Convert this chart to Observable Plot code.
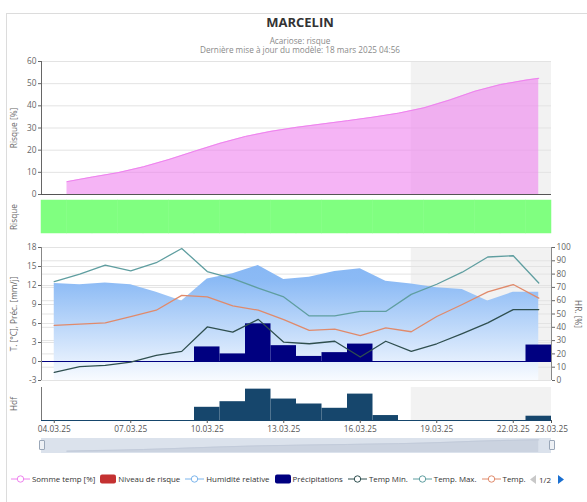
<!DOCTYPE html>
<html><head><meta charset="utf-8">
<script src="https://cdn.jsdelivr.net/npm/d3@7"></script>
<script src="https://cdn.jsdelivr.net/npm/@observablehq/plot@0.6"></script>
<style>
html,body{margin:0;padding:0;background:#fff;}
#root{position:relative;width:587px;height:502px;overflow:hidden;font-family:"Open Sans",sans-serif;color:#666;}
.t{position:absolute;left:0;width:600px;text-align:center;white-space:nowrap;}
.yl{position:absolute;white-space:nowrap;font-size:8.3px;line-height:10px;color:#666;transform:translate(-50%,-50%) rotate(-90deg);}
.yr{position:absolute;white-space:nowrap;font-size:8.3px;line-height:10px;color:#666;transform:translate(-50%,-50%) rotate(90deg);}
#legend{position:absolute;left:11px;top:473px;height:12px;display:flex;align-items:center;font-size:7.9px;color:#333;white-space:nowrap;}
.li{display:flex;align-items:center;margin-right:5px;}
.li svg{margin-right:2px;display:block;}
#nav{position:absolute;left:530px;top:473px;height:12px;display:flex;align-items:center;font-size:8px;color:#333;}
</style></head>
<body><div id="root">
<div style="position:absolute;left:6px;top:13px;width:620px;height:520px;border-left:1px solid #dcdcdc;border-top:1px solid #dcdcdc;"></div>
<div class="t" style="top:13.5px;font-size:13px;line-height:16px;font-weight:bold;color:#333;">MARCELIN</div>
<div class="t" style="top:35.5px;font-size:8.2px;line-height:10px;color:#8a8a8a;">Acariose: risque</div>
<div class="t" style="top:45px;font-size:8.2px;line-height:10px;color:#8a8a8a;">Dernière mise à jour du modèle: 18 mars 2025 04:56</div>
<div class="yl" style="left:14px;top:127.5px;">Risque [%]</div>
<div class="yl" style="left:14px;top:216.5px;">Risque</div>
<div class="yl" style="left:14px;top:313.5px;">T. [°C], Préc. [mm/j]</div>
<div class="yr" style="left:577.5px;top:313.5px;">HR. [%]</div>
<div class="yl" style="left:14px;top:403.5px;">Hdf</div>
</div>
<script>
// ---------- data ----------
const days = ["2025-03-04","2025-03-05","2025-03-06","2025-03-07","2025-03-08","2025-03-09","2025-03-10",
  "2025-03-11","2025-03-12","2025-03-13","2025-03-14","2025-03-15","2025-03-16","2025-03-17","2025-03-18",
  "2025-03-19","2025-03-20","2025-03-21","2025-03-22","2025-03-23"];
const tempMax  = [12.6, 13.8, 15.2, 14.3, 15.6, 17.85, 14.2, 13.1, 11.6, 10.2, 7.2, 7.2, 7.9, 7.9, 10.6, 12.2, 14.1, 16.5, 16.7, 12.4];
const tempMean = [5.7, 5.9, 6.1, 7.1, 8.1, 10.45, 10.2, 8.8, 8.1, 6.6, 4.9, 5.1, 4.1, 5.3, 4.7, 7.1, 9.0, 11.0, 12.15, 10.0];
const tempMin  = [-1.7, -0.8, -0.6, -0.1, 0.95, 1.6, 5.45, 4.65, 6.65, 3.05, 2.8, 3.2, 0.7, 3.2, 1.6, 2.8, 4.4, 6.1, 8.2, 8.2];
const humidity = [72.9, 72, 73.4, 72, 66.4, 59.7, 76.4, 80.3, 86.5, 76, 77.6, 82, 84, 74.6, 72.6, 69.7, 68.4, 59.7, 66.4, 66.4];
const precip   = [0, 0, 0, 0, 0, 0, 2.3, 1.2, 5.95, 2.5, 0.8, 1.4, 2.75, 0, 0, 0, 0, 0, 0, 2.6];
const hdf      = [0, 0, 0, 0, 0, 0, 8, 11.4, 19, 13, 10, 7.4, 16, 3, 0, 0, 0, 0, 0, 2.6];
const riskLevels = ["faible","faible","faible","faible","faible","faible","faible","faible","faible","faible",
  "faible","faible","faible","faible","faible","faible","faible","faible","faible","faible"];
const riskTimes = ["2025-03-04T12:00Z","2025-03-05T12:00Z","2025-03-06T12:00Z","2025-03-07T12:00Z","2025-03-08T12:00Z",
  "2025-03-09T12:00Z","2025-03-10T12:00Z","2025-03-11T12:00Z","2025-03-12T12:00Z","2025-03-13T12:00Z","2025-03-14T12:00Z",
  "2025-03-15T12:00Z","2025-03-16T12:00Z","2025-03-17T12:00Z","2025-03-18T12:00Z","2025-03-19T12:00Z","2025-03-20T12:00Z",
  "2025-03-21T12:00Z","2025-03-22T12:00Z","2025-03-23T00:00Z"];
const riskSum = [5.8, 7.9, 9.85, 12.5, 15.8, 19.5, 23.1, 26.2, 28.5, 30.3, 31.8, 33.3, 34.9, 36.7, 39.1, 42.6, 46.6, 49.6, 51.6, 52.4];
const forecastStart = "2025-03-18T00:00Z";
const xStart = "2025-03-03T12:00Z", xEnd = "2025-03-23T12:00Z";
const xTickDates = ["2025-03-04","2025-03-07","2025-03-10","2025-03-13","2025-03-16","2025-03-19","2025-03-22"];
const riskTicks = [0, 10, 20, 30, 40, 50, 60];
const tempTicks = [-3, 0, 3, 6, 9, 12, 15, 18];
const hrTicks = [0, 10, 20, 30, 40, 50, 60, 70, 80, 90, 100];
const levelColors = {faible: "#80ff80", moyen: "#ffd700", fort: "#c43131"};

// ---------- helpers ----------
const root = document.getElementById("root");
const W = 587, ML = 41, MR = 36;
const xMin = new Date(xStart), xMax = new Date(xEnd), fStart = new Date(forecastStart);
const xOpt = {type: "utc", domain: [xMin, xMax], axis: null, label: null};
const baseStyle = {background: "transparent", overflow: "visible", fontSize: "8.3px", fontFamily: "Open Sans", color: "#666"};
const half = d => d3.utcHour.offset(d, -12), halfP = d => d3.utcHour.offset(d, 12);
const rows = days.map((d, i) => ({d: new Date(d), tmax: tempMax[i], tmean: tempMean[i], tmin: tempMin[i],
  hr: humidity[i], p: precip[i], hdf: hdf[i], level: riskLevels[i]}));
const riskRows = riskTimes.map((t, i) => ({t: new Date(t), v: riskSum[i]}));
const band = [{a: fStart, b: xMax}];
const toT = h => -3 + h * 21 / 100;   // HR axis (0–100) mapped onto T axis (-3–18)
function place(el, top) { el.style.position = "absolute"; el.style.left = "0px"; el.style.top = top + "px"; root.appendChild(el); }

// ---------- panel 1 : Somme temp / Risque [%] ----------
place(Plot.plot({
  width: W, height: 150, marginLeft: ML, marginRight: MR, marginTop: 11, marginBottom: 6,
  x: xOpt, y: {domain: [0, 60], axis: null, label: null}, style: baseStyle,
  marks: [
    Plot.rect(band, {x1: "a", x2: "b", fill: "#f2f2f2"}),
    Plot.ruleY(riskTicks.slice(1), {stroke: "#e3e3e3"}),
    Plot.areaY(riskRows, {x: "t", y: "v", fill: "violet", fillOpacity: 0.6}),
    Plot.lineY(riskRows, {x: "t", y: "v", stroke: "violet", strokeWidth: 1}),
    Plot.ruleX([xMin], {stroke: "#666"}),
    Plot.ruleY([0], {stroke: "#555", strokeWidth: 1.2}),
    Plot.axisY({ticks: riskTicks, tickSize: 3, tickPadding: 2, label: null, tickFormat: d => d})
  ]
}), 50);

// ---------- panel 2 : Niveau de risque ----------
place(Plot.plot({
  width: W, height: 40, marginLeft: ML, marginRight: MR, marginTop: 4, marginBottom: 3,
  x: xOpt, y: {axis: null}, style: baseStyle,
  marks: [
    Plot.rect(rows, {x1: d => half(d.d), x2: d => halfP(d.d), fill: d => levelColors[d.level], stroke: d => levelColors[d.level], strokeWidth: 0.5})
  ]
}), 196);

// ---------- panel 3 : temperatures, precipitation, humidity ----------
const gradDefs = () => {
  const g = document.createElementNS("http://www.w3.org/2000/svg", "defs");
  g.innerHTML = `<linearGradient id="hrGrad" gradientUnits="userSpaceOnUse" x1="0" y1="7" x2="0" y2="140">
    <stop offset="0" stop-color="#84b5f4"/><stop offset="0.25" stop-color="#8bbaf5"/><stop offset="1" stop-color="#f8fbff"/></linearGradient>`;
  return g;
};
place(Plot.plot({
  width: W, height: 145, marginLeft: ML, marginRight: MR, marginTop: 7, marginBottom: 5,
  x: xOpt, y: {domain: [-3, 18], axis: null, label: null}, style: baseStyle,
  marks: [
    gradDefs,
    Plot.rect(band, {x1: "a", x2: "b", fill: "#f2f2f2"}),
    Plot.ruleY(tempTicks, {stroke: "#e3e3e3"}),
    Plot.ruleY(hrTicks.map(toT), {stroke: "#e3e3e3"}),
    Plot.areaY(rows, {x: "d", y1: -3, y2: d => toT(d.hr), fill: "url(#hrGrad)"}),
    Plot.rect(rows.filter(d => d.p > 0), {x1: d => half(d.d), x2: d => halfP(d.d), y1: 0, y2: "p", fill: "#000080"}),
    Plot.ruleY([0], {stroke: "#000080", strokeWidth: 1}),
    Plot.lineY(rows, {x: "d", y: "tmin", stroke: "#2f4f4f", strokeWidth: 1.3}),
    Plot.lineY(rows, {x: "d", y: "tmax", stroke: "#5f9ea0", strokeWidth: 1.3}),
    Plot.lineY(rows, {x: "d", y: "tmean", stroke: "#e08a6b", strokeWidth: 1.3}),
    Plot.ruleX([xMin], {stroke: "#888"}),
    Plot.ruleX([xMax], {stroke: "#888"}),
    Plot.axisY({ticks: tempTicks, tickSize: 3, tickPadding: 2, label: null, tickFormat: d => d}),
    Plot.axisY({anchor: "right", ticks: hrTicks.map(toT), tickSize: 3, tickPadding: 2, label: null,
      tickFormat: t => Math.round((t + 3) * 100 / 21)})
  ]
}), 240);

// ---------- panel 4 : Hdf + time axis ----------
place(Plot.plot({
  width: W, height: 59, marginLeft: ML, marginRight: MR, marginTop: 6, marginBottom: 20,
  x: {...xOpt}, y: {domain: [0, 20], axis: null}, style: {...baseStyle, color: "#555"},
  marks: [
    Plot.rect(band, {x1: "a", x2: "b", fill: "#f2f2f2"}),
    Plot.rect(rows.filter(d => d.hdf > 0), {x1: d => half(d.d), x2: d => halfP(d.d), y1: 0, y2: "hdf", fill: "#16466c"}),
    Plot.ruleY([0], {stroke: "#16466c", strokeWidth: 1}),
    Plot.ruleX([xMin], {stroke: "#777"}),
    Plot.axisX({ticks: [...xTickDates.map(d => new Date(d)), xMax], tickSize: 3, tickPadding: 3, label: null,
      tickFormat: d3.utcFormat("%d.%m.%y")})
  ]
}), 381);

// ---------- navigator ----------
place(Plot.plot({
  width: W, height: 15, marginLeft: ML, marginRight: MR, marginTop: 0, marginBottom: 0,
  x: xOpt, y: {domain: [-4, 58], axis: null}, style: baseStyle,
  marks: [
    Plot.rect([0], {x1: () => xMin, x2: () => xMax, fill: "#dbe2ec"}),
    Plot.areaY(riskRows, {x: "t", y: "v", fill: "#cbd3e0"}),
    Plot.lineY(riskRows, {x: "t", y: "v", stroke: "#c2cbda", strokeWidth: 1})
  ]
}), 438);
for (const hx of [41.5, 551.5]) {
  const h = document.createElement("div");
  h.style.cssText = `position:absolute;left:${hx - 2.5}px;top:440px;width:4px;height:8px;background:#eef1f5;border:1px solid #9aa7b8;border-radius:1px;`;
  root.appendChild(h);
}

// ---------- legend ----------
const lineSym = c => `<svg width="19" height="10"><line x1="0" y1="5" x2="19" y2="5" stroke="${c}"/><circle cx="9.5" cy="5" r="3.2" fill="#fff" stroke="${c}"/></svg>`;
const rectSym = c => `<svg width="16" height="10"><rect x="0" y="0.5" width="16" height="9" rx="2" fill="${c}"/></svg>`;
const legendItems = [
  ["line", "violet", "Somme temp [%]"],
  ["rect", "#c43131", "Niveau de risque"],
  ["line", "#7cb5ec", "Humidité relative"],
  ["rect", "#000080", "Précipitations"],
  ["line", "#2f4f4f", "Temp Min."],
  ["line", "#5f9ea0", "Temp. Max."],
  ["line", "#e08a6b", "Temp."]
];
const leg = document.createElement("div"); leg.id = "legend";
leg.innerHTML = legendItems.map(([k, c, n]) => `<div class="li">${k === "line" ? lineSym(c) : rectSym(c)}<span>${n}</span></div>`).join("");
root.appendChild(leg);
const nav = document.createElement("div"); nav.id = "nav";
nav.innerHTML = `<svg width="7" height="9"><path d="M6,0 L0,4.5 L6,9Z" fill="#c8c8c8"/></svg><span style="margin:0 7px 0 2px">1/2</span><svg width="7" height="9"><path d="M0,0 L6,4.5 L0,9Z" fill="#1a6fd0"/></svg>`;
root.appendChild(nav);
</script>
</body></html>
